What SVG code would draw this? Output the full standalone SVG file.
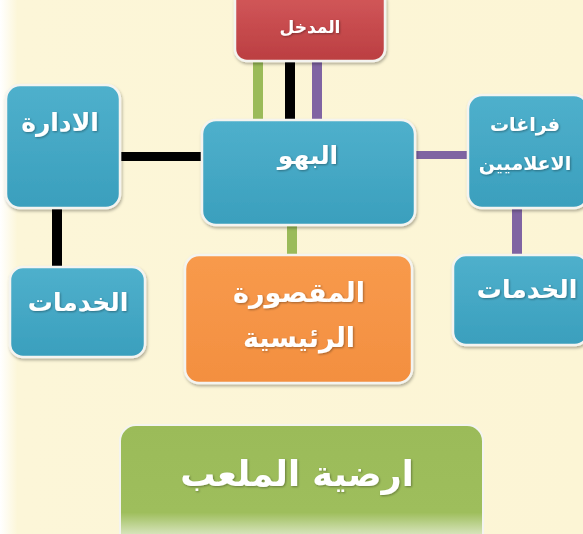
<svg xmlns="http://www.w3.org/2000/svg" width="583" height="534" viewBox="0 0 583 534">
<defs>
<linearGradient id="bg" x1="0" y1="0" x2="1" y2="0">
<stop offset="0" stop-color="#ffffff"/><stop offset="0.03" stop-color="#fcf6d8"/><stop offset="1" stop-color="#fcf5d5"/>
</linearGradient>
<linearGradient id="blue" x1="0" y1="0" x2="0" y2="1">
<stop offset="0" stop-color="#4fb0cc"/><stop offset="1" stop-color="#3a9fbd"/>
</linearGradient>
<linearGradient id="red" x1="0" y1="0" x2="0" y2="1">
<stop offset="0" stop-color="#d45a5c"/><stop offset="1" stop-color="#bb3e41"/>
</linearGradient>
<linearGradient id="orange" x1="0" y1="0" x2="0" y2="1">
<stop offset="0" stop-color="#f89a4c"/><stop offset="1" stop-color="#f38f40"/>
</linearGradient>
<linearGradient id="green" x1="0" y1="0" x2="0" y2="1">
<stop offset="0" stop-color="#9bbb59"/><stop offset="0.7" stop-color="#9ebe5c"/><stop offset="1" stop-color="#ffffff"/>
</linearGradient>
<filter id="sh" x="-10%" y="-10%" width="120%" height="130%">
<feDropShadow dx="1" dy="2" stdDeviation="1.5" flood-color="#000" flood-opacity="0.3"/>
</filter>
<filter id="tsh" x="-10%" y="-10%" width="120%" height="130%">
<feDropShadow dx="1" dy="1" stdDeviation="1" flood-color="#000" flood-opacity="0.35"/>
</filter>
</defs>
<style>
.box{stroke:#f4f4f0;stroke-width:2.5;filter:url(#sh)}
.t{font-family:"DejaVu Sans","Noto Sans",sans-serif;font-weight:bold;fill:#ffffff;text-anchor:middle;direction:rtl;filter:url(#tsh)}
.k{fill:#000}
.p{fill:#8064a2}
.g{fill:#9bbb59}
</style>
<rect x="0" y="0" width="583" height="534" fill="url(#bg)"/>
<g id="connectors">
<rect class="g" x="253" y="60" width="10" height="62"/>
<rect class="k" x="285" y="60" width="10" height="62"/>
<rect class="p" x="312" y="60" width="10" height="62"/>
<rect class="k" x="118" y="152" width="86" height="9"/>
<rect class="k" x="52" y="206" width="10" height="62"/>
<rect class="p" x="413" y="151" width="57" height="8"/>
<rect class="p" x="512" y="206" width="10" height="52"/>
<rect class="g" x="287" y="223" width="10" height="34"/>
</g>
<g id="entrance">
<rect class="box" x="235" y="-12" width="150" height="73" rx="12" fill="url(#red)"/>
<text class="t" x="310" y="33" font-size="17">المدخل</text>
</g>
<g id="lobby">
<rect class="box" x="202" y="120" width="213" height="105" rx="14" fill="url(#blue)"/>
<text class="t" x="308" y="164" font-size="25">البهو</text>
</g>
<g id="admin">
<rect class="box" x="6" y="85" width="114" height="123" rx="14" fill="url(#blue)"/>
<text class="t" x="60" y="131" font-size="25">الادارة</text>
</g>
<g id="services-left">
<rect class="box" x="10" y="267" width="135" height="90" rx="13" fill="url(#blue)"/>
<text class="t" x="78" y="311" font-size="25">الخدمات</text>
</g>
<g id="media">
<rect class="box" x="468" y="95" width="120" height="113" rx="14" fill="url(#blue)"/>
<text class="t" x="525" y="131" font-size="19">فراغات</text>
<text class="t" x="525" y="170" font-size="19">الاعلاميين</text>
</g>
<g id="services-right">
<rect class="box" x="453" y="255" width="135" height="90" rx="13" fill="url(#blue)"/>
<text class="t" x="527" y="298" font-size="25">الخدمات</text>
</g>
<g id="main-stand">
<rect class="box" x="185" y="255" width="227" height="128" rx="14" fill="url(#orange)"/>
<text class="t" x="299" y="302" font-size="27">المقصورة</text>
<text class="t" x="299" y="347" font-size="27">الرئيسية</text>
</g>
<g id="pitch">
<rect x="120" y="425" width="363" height="125" rx="16" fill="url(#green)" stroke="#f4f4f0" stroke-width="2"/>
<text class="t" x="297" y="486" font-size="35">ارضية الملعب</text>
</g>
</svg>
